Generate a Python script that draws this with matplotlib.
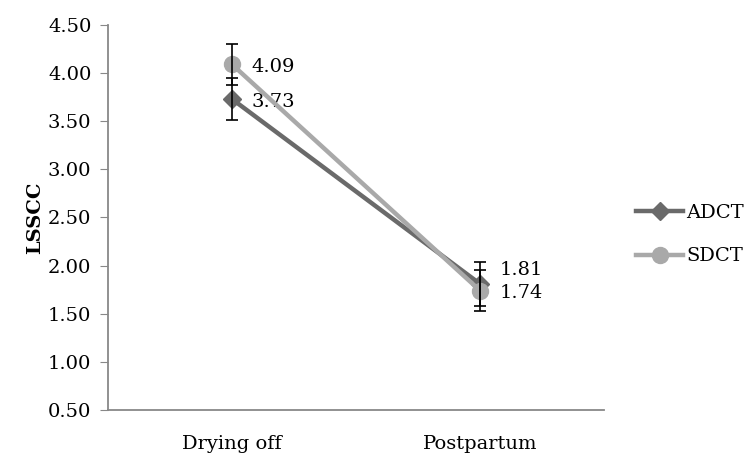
import matplotlib
matplotlib.use("Agg")
import matplotlib.pyplot as plt

categories = ["Drying off", "Postpartum"]
adct = [3.73, 1.81]
sdct = [4.09, 1.74]
adct_err = [0.22, 0.23]
sdct_err = [0.21, 0.21]
yticks = [0.50, 1.00, 1.50, 2.00, 2.50, 3.00, 3.50, 4.00, 4.50]

plt.rcParams['font.family'] = ['DejaVu Serif']

fig = plt.figure(figsize=(7.47, 4.54), dpi=100)
ax = fig.add_axes([0.1446, 0.097, 0.664, 0.848])

x = [0, 1]
dark = '#6a6a6a'
light = '#a9a9a9'
fs = 14

ax.plot(x, adct, color=dark, lw=3.2, marker='D', ms=9, label='ADCT', zorder=3)
ax.plot(x, sdct, color=light, lw=3.2, marker='o', ms=11.5, label='SDCT', zorder=4)
ax.errorbar(x, adct, yerr=adct_err, fmt='none', ecolor='black', elinewidth=1.2, capsize=4, capthick=1.2, zorder=5)
ax.errorbar(x, sdct, yerr=sdct_err, fmt='none', ecolor='black', elinewidth=1.2, capsize=4, capthick=1.2, zorder=5)

# data labels
offs_adct = [(14, -2), (14, 10)]
offs_sdct = [(14, -2), (14, -2)]
for i in range(2):
    ax.annotate(f"{adct[i]:.2f}", (x[i], adct[i]), xytext=offs_adct[i], textcoords='offset points',
                ha='left', va='center', fontsize=fs)
    ax.annotate(f"{sdct[i]:.2f}", (x[i], sdct[i]), xytext=offs_sdct[i], textcoords='offset points',
                ha='left', va='center', fontsize=fs)

ax.set_xlim(-0.5, 1.5)
ax.set_ylim(0.5, 4.5)
ax.set_yticks(yticks)
ax.set_yticklabels([f"{v:.2f}" for v in yticks], fontsize=fs)
ax.set_xticks(x)
ax.set_xticklabels(categories, fontsize=fs)
ax.tick_params(axis='x', length=0, pad=18)
ax.tick_params(axis='y', length=6, color='#888888', pad=6)
ax.set_ylabel("LSSCC", fontsize=fs, fontweight='bold', labelpad=3)

for s in ['top', 'right']:
    ax.spines[s].set_visible(False)
for s in ['left', 'bottom']:
    ax.spines[s].set_color('#888888')
    ax.spines[s].set_linewidth(1.3)

ax.legend(loc='center left', bbox_to_anchor=(1.03, 0.455), frameon=False, fontsize=fs,
          handlelength=2.4, handletextpad=0.15, labelspacing=1.3)

fig.savefig("out.png", dpi=100)
